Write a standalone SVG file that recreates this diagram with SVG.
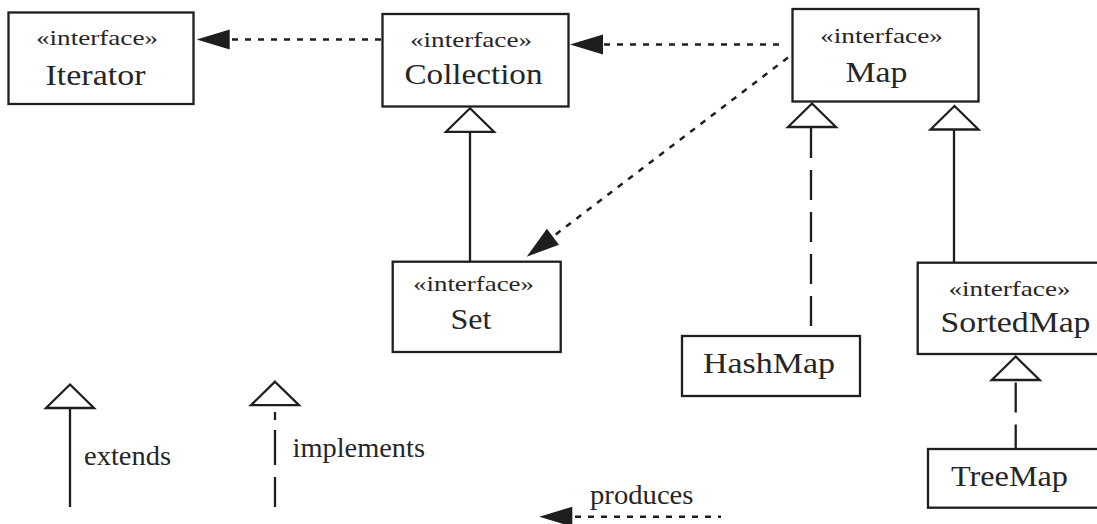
<svg xmlns="http://www.w3.org/2000/svg" xmlns:xlink="http://www.w3.org/1999/xlink" width="1097" height="524" viewBox="0 0 1097 524">
  <style>
    .box { fill: #ffffff; stroke: #1e1e1e; stroke-width: 2.3; }
    .stereo { font-family: "Liberation Serif", "Times New Roman", serif; font-size: 22px; fill: #262626; }
    .name { font-family: "Liberation Serif", "Times New Roman", serif; font-size: 29px; fill: #262626; }
    .legend { font-family: "Liberation Serif", "Times New Roman", serif; font-size: 27px; fill: #262626; }
    .solid { stroke: #1e1e1e; stroke-width: 2.3; fill: none; }
    .dashed { stroke: #1e1e1e; stroke-width: 2.3; fill: none; stroke-dasharray: 30 12; }
    .dotted { stroke: #1e1e1e; stroke-width: 2.5; fill: none; stroke-dasharray: 6 7; }
    .gen { fill: #ffffff; stroke: #1e1e1e; stroke-width: 2.3; stroke-linejoin: miter; }
    .head { fill: #1e1e1e; stroke: none; }
  </style>
  <defs>
    <!-- hollow generalization triangle, apex at origin -->
    <path id="tri" d="M0,0 L24,23.5 L-24,23.5 Z"/>
    <!-- filled dependency arrowhead, tip at origin, body along +x -->
    <path id="arrow" d="M0,0 L33,-10 L33,10 Z"/>
  </defs>

  <rect width="1097" height="524" fill="#ffffff"/>

  <!-- connectors -->
  <g id="connectors">
    <!-- Collection produces Iterator -->
    <line class="dotted" x1="232" y1="39.5" x2="381" y2="39.5"/>
    <use href="#arrow" class="head" x="196.7" y="39.5"/>
    <!-- Map produces Collection -->
    <line class="dotted" x1="604" y1="44.5" x2="786" y2="44.5"/>
    <use href="#arrow" class="head" x="570" y="44.5"/>
    <!-- Map produces Set -->
    <line class="dotted" x1="788" y1="57.5" x2="554" y2="235.8"/>
    <use href="#arrow" class="head" transform="translate(526.7,256.7) rotate(-37.3)"/>

    <!-- Set extends Collection -->
    <line class="solid" x1="470" y1="131.5" x2="470" y2="262"/>
    <use href="#tri" class="gen" x="470" y="108.3"/>
    <!-- HashMap implements Map -->
    <line class="dashed" x1="811" y1="128" x2="811" y2="336"/>
    <use href="#tri" class="gen" x="812" y="103.5"/>
    <!-- SortedMap extends Map -->
    <line class="solid" x1="954" y1="129.5" x2="954" y2="263"/>
    <use href="#tri" class="gen" x="954.5" y="106"/>
    <!-- TreeMap implements SortedMap -->
    <line class="dashed" x1="1015.7" y1="382.5" x2="1015.7" y2="449"/>
    <use href="#tri" class="gen" x="1015.7" y="356.5"/>

    <!-- legend -->
    <line class="solid" x1="70" y1="408" x2="70" y2="507"/>
    <use href="#tri" class="gen" x="70" y="384.5"/>
    <line class="solid" x1="275" y1="507" x2="275" y2="405" stroke-dasharray="30 12 35 10 8 100"/>
    <use href="#tri" class="gen" x="275" y="381.7"/>
    <line class="dotted" x1="575" y1="516.7" x2="721" y2="516.7"/>
    <use href="#arrow" class="head" x="539.3" y="516.7"/>
  </g>

  <!-- nodes -->
  <g id="iterator">
    <rect class="box" x="8.5" y="12.5" width="185" height="91.5"/>
    <text class="stereo" x="36" y="45" textLength="122" lengthAdjust="spacingAndGlyphs">«interface»</text>
    <text class="name" x="45.5" y="85" textLength="100" lengthAdjust="spacingAndGlyphs">Iterator</text>
  </g>

  <g id="collection">
    <rect class="box" x="382.5" y="14" width="186" height="92.5"/>
    <text class="stereo" x="410" y="47.3" textLength="122" lengthAdjust="spacingAndGlyphs">«interface»</text>
    <text class="name" x="404.5" y="84" textLength="138" lengthAdjust="spacingAndGlyphs">Collection</text>
  </g>

  <g id="map">
    <rect class="box" x="792.5" y="9" width="186" height="92.5"/>
    <text class="stereo" x="820" y="43.3" textLength="123" lengthAdjust="spacingAndGlyphs">«interface»</text>
    <text class="name" x="845.5" y="81.7" textLength="62" lengthAdjust="spacingAndGlyphs">Map</text>
  </g>

  <g id="set">
    <rect class="box" x="392.7" y="261.7" width="168" height="90.3"/>
    <text class="stereo" x="413" y="290.7" textLength="121" lengthAdjust="spacingAndGlyphs">«interface»</text>
    <text class="name" x="450.5" y="329.3" textLength="41" lengthAdjust="spacingAndGlyphs">Set</text>
  </g>

  <g id="hashmap">
    <rect class="box" x="682" y="336" width="178" height="60"/>
    <text class="name" x="703" y="373.3" textLength="132" lengthAdjust="spacingAndGlyphs">HashMap</text>
  </g>

  <g id="sortedmap">
    <rect class="box" x="917.7" y="262.7" width="190" height="91.3"/>
    <text class="stereo" x="948.5" y="295.7" textLength="122" lengthAdjust="spacingAndGlyphs">«interface»</text>
    <text class="name" x="940.5" y="331.7" textLength="150" lengthAdjust="spacingAndGlyphs">SortedMap</text>
  </g>

  <g id="treemap">
    <rect class="box" x="928" y="449" width="180" height="58.7"/>
    <text class="name" x="951" y="486" textLength="117" lengthAdjust="spacingAndGlyphs">TreeMap</text>
  </g>

  <!-- legend labels -->
  <g id="legend">
    <text class="legend" x="84" y="465" textLength="87" lengthAdjust="spacingAndGlyphs">extends</text>
    <text class="legend" x="292.5" y="457.3" textLength="132.5" lengthAdjust="spacingAndGlyphs">implements</text>
    <text class="legend" x="590" y="503.5" textLength="103.5" lengthAdjust="spacingAndGlyphs">produces</text>
  </g>
</svg>
